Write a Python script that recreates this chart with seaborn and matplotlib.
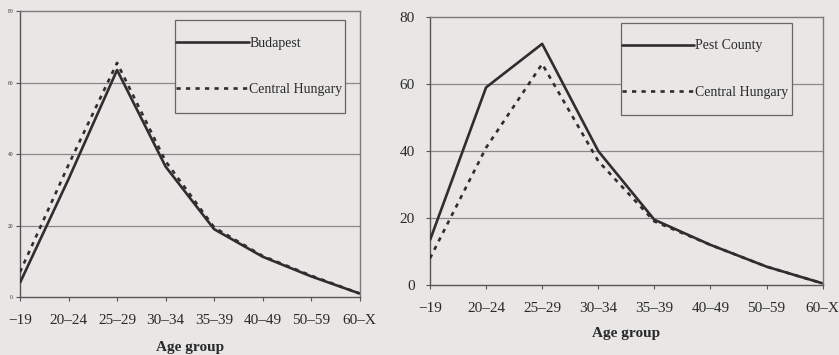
import matplotlib
matplotlib.use("Agg")
import matplotlib.pyplot as plt
from matplotlib.patches import Rectangle
import seaborn as sns
import pandas as pd

age_groups = ["\u221219", "20\u201324", "25\u201329", "30\u201334", "35\u201339", "40\u201349", "50\u201359", "60\u2013X"]
budapest = [4, 33, 63.5, 36.5, 19, 11.3, 5.8, 1]
central_left = [7, 37, 65.5, 38, 19.5, 11.5, 6, 1]
pest_county = [13.4, 59, 72, 40, 19.5, 12, 5.5, 0.5]
central_right = [8, 41, 66, 37, 19, 12, 5.5, 0.5]
y_ticks = [0, 20, 40, 60, 80]

sns.set_theme(style="white")
plt.rcParams['font.family'] = ['Liberation Serif', 'DejaVu Serif']

BG = "#e9e7e6"
LC = "#2f2d2d"
GC = "#8a8888"
TC = "#2a2a2a"
DASH = (1.6, 2.0)

fig = plt.figure(figsize=(8.39, 3.55), dpi=100, facecolor=BG)
ax1 = fig.add_axes([0.0238, 0.163, 0.405, 0.806])
ax2 = fig.add_axes([0.5125, 0.197, 0.468, 0.755])


def draw(ax, s1, name1, s2, name2, small_y, box, xlabel_pad):
    x = list(range(len(age_groups)))
    df = pd.DataFrame({"x": x + x,
                       "v": s1 + s2,
                       "series": [name1] * len(x) + [name2] * len(x)})
    ax.set_facecolor(BG)
    sns.lineplot(data=df, x="x", y="v", hue="series", style="series",
                 palette=[LC, LC], dashes=[(1, 0), DASH],
                 linewidth=1.9, ax=ax, legend=False, zorder=3)
    ax.set_xlim(0, len(age_groups) - 1)
    ax.set_ylim(0, 80)
    ax.set_yticks(y_ticks)
    ax.set_xticks(x)
    ax.set_xticklabels(age_groups, fontsize=11, color=TC)
    ax.set_yticklabels([str(t) for t in y_ticks], fontsize=4 if small_y else 11,
                       color=TC)
    for t in y_ticks[1:-1]:
        ax.axhline(t, color=GC, lw=0.9, zorder=0)
    for sp in ax.spines.values():
        sp.set_color("#7a7878")
        sp.set_linewidth(1.0)
    ax.spines["left"].set_color("#555")
    ax.spines["bottom"].set_color("#555")
    ax.tick_params(axis="both", direction="out", length=3, width=0.8,
                   color="#555", bottom=True, left=True)
    ax.tick_params(axis="y", pad=2 if small_y else 8)
    ax.tick_params(axis="x", pad=9)
    ax.set_xlabel("Age group", fontsize=11, fontweight="bold", color=TC,
                  labelpad=xlabel_pad)
    ax.set_ylabel("")
    # legend box
    x0, x1, y0, y1 = box
    ax.add_patch(Rectangle((x0, y0), x1 - x0, y1 - y0, transform=ax.transAxes,
                           facecolor=BG, edgecolor="#666", lw=0.9, zorder=5))
    h1, = ax.plot([], [], color=LC, lw=1.9)
    h2, = ax.plot([], [], color=LC, lw=1.9, dashes=DASH)
    leg = ax.legend([h1, h2], [name1, name2], loc="center left",
                    bbox_to_anchor=(x0, (y0 + y1) / 2), fontsize=10,
                    handlelength=5.2, handletextpad=0.05, labelspacing=2.4,
                    borderpad=0.1, borderaxespad=0, frameon=False)
    leg.set_zorder(6)
    for t in leg.get_texts():
        t.set_color(TC)


draw(ax1, budapest, "Budapest", central_left, "Central Hungary", True,
     (0.456, 0.956, 0.643, 0.969), 10)
draw(ax2, pest_county, "Pest County", central_right, "Central Hungary", False,
     (0.486, 0.921, 0.634, 0.978), 9)

fig.savefig("out.png", dpi=100, facecolor=BG)
